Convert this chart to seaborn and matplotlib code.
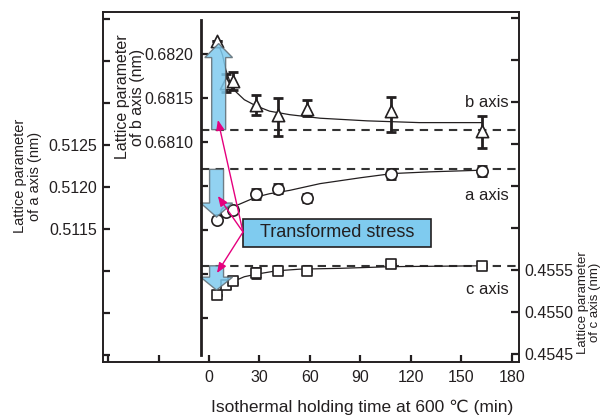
import numpy as np
import pandas as pd
import seaborn as sns
import matplotlib.pyplot as plt
from matplotlib.patches import FancyArrow, Rectangle

# data
time_min = [5, 10, 14, 28, 41, 58, 108, 162]

b_axis = [0.68215, 0.68167, 0.68169, 0.68142, 0.68131, 0.68138, 0.68135, 0.68112]
b_err_lo = [0, 0.0001, 0.0001, 0.000114, 0.00024, 0.00009, 0.00024, 0.000187]
b_err_hi = [0, 0.0001, 0.0001, 0.000114, 0.00019, 0.0001, 0.00016, 0.000176]

a_axis = [0.51161, 0.51170, 0.51173, 0.51192, 0.51198, 0.51187, 0.51216, 0.51219]
a_err = [0.00003, 0.00003, 0.00003, 0.00006, 0.00005, 0.00005, 0.00006, 0.00006]

c_axis = [0.45520, 0.45532, 0.45537, 0.45546, 0.45549, 0.45549, 0.45557, 0.45555]
c_err = [0, 0.00003, 0.00003, 0.00006, 0, 0, 0, 0.00002]

# fitted trend lines
b_fit_t = [5, 8, 10, 12.5, 16, 21, 28, 36, 48, 66, 94, 125, 162]
b_fit = [0.68214, 0.68199, 0.68182, 0.68168, 0.68157, 0.68148, 0.68141, 0.68135,
         0.68131, 0.68127, 0.68124, 0.68122, 0.68122]
a_fit_t = [6, 10, 14, 21, 28, 36, 48, 66, 90, 109, 131, 162]
a_fit = [0.51166, 0.51171, 0.51176, 0.51182, 0.51188, 0.51192, 0.51196, 0.51204,
         0.51211, 0.51216, 0.51218, 0.51220]
c_fit_t = [5, 9.5, 14, 21, 28, 40, 54, 78, 109, 162]
c_fit = [0.45523, 0.45530, 0.45536, 0.45542, 0.45545, 0.45549, 0.45551, 0.45552,
         0.45554, 0.45555]

# stress-free reference levels (dashed)
b_ref = 0.68114
a_ref = 0.51221
c_ref = 0.45555

x_ticks = [-60, -30, 0, 30, 60, 90, 120, 150, 180]
a_ticks = [0.5100, 0.5105, 0.5110, 0.5115, 0.5120, 0.5125, 0.5130, 0.5135, 0.5140]
b_ticks = [0.6790, 0.6795, 0.6800, 0.6805, 0.6810, 0.6815, 0.6820]
c_ticks = [0.4545, 0.4550, 0.4555, 0.4560, 0.4565, 0.4570, 0.4575, 0.4580, 0.4585]

sns.set_theme(style='ticks')
plt.rcParams['font.family'] = ['Liberation Sans', 'DejaVu Sans']
ink = '#231f20'
blue = '#7fcbef'
pink = '#e5007e'
plt.rcParams['text.color'] = ink
plt.rcParams['axes.labelcolor'] = ink
plt.rcParams['xtick.color'] = ink
plt.rcParams['ytick.color'] = ink

fig = plt.figure(figsize=(6.05, 4.16), dpi=100)
ax = fig.add_axes([0.1702, 0.1298, 0.6876, 0.8414])
axc = ax.twinx()
axb = ax.twinx()

ax.set_xlim(-63, 184.2)
ax.set_ylim(0.509917, 0.514083)
axc.set_ylim(0.454405, 0.458571)
axb.set_ylim(0.6785, 0.682477)

for a in (ax, axc):
    for s in a.spines.values():
        s.set_linewidth(1.2)
        s.set_color(ink)

# inner b axis
for s in ['right', 'top', 'bottom']:
    axb.spines[s].set_visible(False)
axb.spines['left'].set_visible(True)
axb.spines['left'].set_position(('data', -5))
axb.spines['left'].set_bounds(0.67858, 0.68239)
axb.spines['left'].set_linewidth(2)
axb.spines['left'].set_color(ink)
axb.yaxis.tick_left()
axb.yaxis.set_label_position('left')

# ticks
ax.set_xticks(x_ticks)
ax.set_xticklabels([str(t) if t >= 0 else '' for t in x_ticks])
ax.set_yticks(a_ticks)
ax.set_yticklabels(['0.5115' if t == 0.5115 else '0.5120' if t == 0.5120 else
                    '0.5125' if t == 0.5125 else '' for t in a_ticks])
axb.set_yticks(b_ticks)
axb.set_yticklabels(['%.4f' % t if t >= 0.681 - 1e-9 else '' for t in b_ticks])
axc.set_yticks(c_ticks)
axc.set_yticklabels(['%.4f' % t if t <= 0.4555 + 1e-9 else '' for t in c_ticks])

ax.tick_params(axis='x', direction='in', length=5, width=1.6, pad=6, labelsize=11.5)
ax.tick_params(axis='y', direction='in', length=5, width=1.6, pad=4, labelsize=11.5)
axc.tick_params(axis='y', direction='in', length=6, width=1.6, pad=4, labelsize=11.5)
axb.tick_params(axis='y', direction='in', length=5, width=1.6, pad=5, labelsize=11.5)

# reference dashed lines
ax.hlines(a_ref, -5, 184.2, colors='#333333', lw=1.5, linestyles=(0, (4, 3)), zorder=1)
axb.hlines(b_ref, -5, 184.2, colors='#333333', lw=1.5, linestyles=(0, (4, 3)), zorder=1)
axc.hlines(c_ref, -5, 184.2, colors='#333333', lw=1.5, linestyles=(0, (4, 3)), zorder=1)

# fit curves
sns.lineplot(x=a_fit_t, y=a_fit, ax=ax, color=ink, lw=0.9, zorder=2)
sns.lineplot(x=b_fit_t, y=b_fit, ax=axb, color=ink, lw=0.9, zorder=2)
sns.lineplot(x=c_fit_t, y=c_fit, ax=axc, color=ink, lw=0.9, zorder=2)

# error bars
ekw = dict(fmt='none', ecolor=ink, elinewidth=2, capsize=3.5, capthick=2, zorder=3)
ax.errorbar(time_min, a_axis, yerr=a_err, **ekw)
axb.errorbar(time_min, b_axis, yerr=[b_err_lo, b_err_hi], **ekw)
axc.errorbar(time_min, c_axis, yerr=c_err, **ekw)

# markers
mkw = dict(facecolor='white', edgecolor=ink, linewidth=1.2, zorder=4, legend=False)
sns.scatterplot(x=time_min, y=a_axis, ax=ax, marker='o', s=66, **mkw)
sns.scatterplot(x=time_min, y=b_axis, ax=axb, marker='^', s=78, **mkw)
sns.scatterplot(x=time_min, y=c_axis, ax=axc, marker='s', s=62, **mkw)

# blue block arrows (transformed stress)
akw = dict(length_includes_head=True, facecolor=blue, edgecolor='#5f6b72',
           lw=1.0, alpha=0.85, zorder=6)
axb.add_patch(FancyArrow(5.75, b_ref, 0, 0.000978, width=8.3, head_width=16.5,
                         head_length=0.000159, **akw))
ax.add_patch(FancyArrow(4.5, a_ref, 0, -0.000568, width=8.3, head_width=19,
                        head_length=0.000167, **akw))
axc.add_patch(FancyArrow(4.5, c_ref, 0, -0.000290, width=8.3, head_width=19,
                         head_length=0.000155, **akw))

# label box
axb.add_patch(Rectangle((20.2, 0.511286), 111.7, 0.000333, transform=ax.transData,
                        facecolor=blue, edgecolor=ink, lw=1.2, zorder=7))
axb.text(76, 0.5114525, 'Transformed stress', transform=ax.transData,
         ha='center', va='center', fontsize=13, zorder=8)

# magenta pointers
start = (20.2, 0.511464)
pkw = dict(arrowstyle='-|>,head_length=0.5,head_width=0.2', color=pink, lw=1.0,
           shrinkA=0, shrinkB=0)
axb.annotate('', xy=(5.3, 0.68125), xycoords=axb.transData,
             xytext=start, textcoords=ax.transData, arrowprops=pkw, zorder=9)
axb.annotate('', xy=(5.3, 0.511893), xycoords=ax.transData,
             xytext=start, textcoords=ax.transData, arrowprops=pkw, zorder=9)
axb.annotate('', xy=(4.75, 0.455464), xycoords=axc.transData,
             xytext=start, textcoords=ax.transData, arrowprops=pkw, zorder=9)

# series names
ax.text(0.976, 0.74, 'b axis', transform=ax.transAxes, ha='right', va='center', fontsize=12)
ax.text(0.976, 0.477, 'a axis', transform=ax.transAxes, ha='right', va='center', fontsize=12)
ax.text(0.976, 0.206, 'c axis', transform=ax.transAxes, ha='right', va='center', fontsize=12)

# axis labels
ax.set_xlabel('Isothermal holding time at 600 ℃ (min)', fontsize=12.5)
ax.xaxis.set_label_coords(0.623, -0.108)
ax.set_ylabel('Lattice parameter\nof a axis (nm)', fontsize=10.5, linespacing=1.05)
ax.yaxis.set_label_coords(-0.1466, 0.531)
axb.set_ylabel('Lattice parameter\nof b axis (nm)', fontsize=11.5, linespacing=1.0)
axb.yaxis.set_label_coords(0.101, 0.757)
axc.set_ylabel('Lattice parameter\nof c axis (nm)', fontsize=9.5, linespacing=1.0)
axc.yaxis.set_label_coords(1.139, 0.171)

fig.savefig('out.png', dpi=100)
